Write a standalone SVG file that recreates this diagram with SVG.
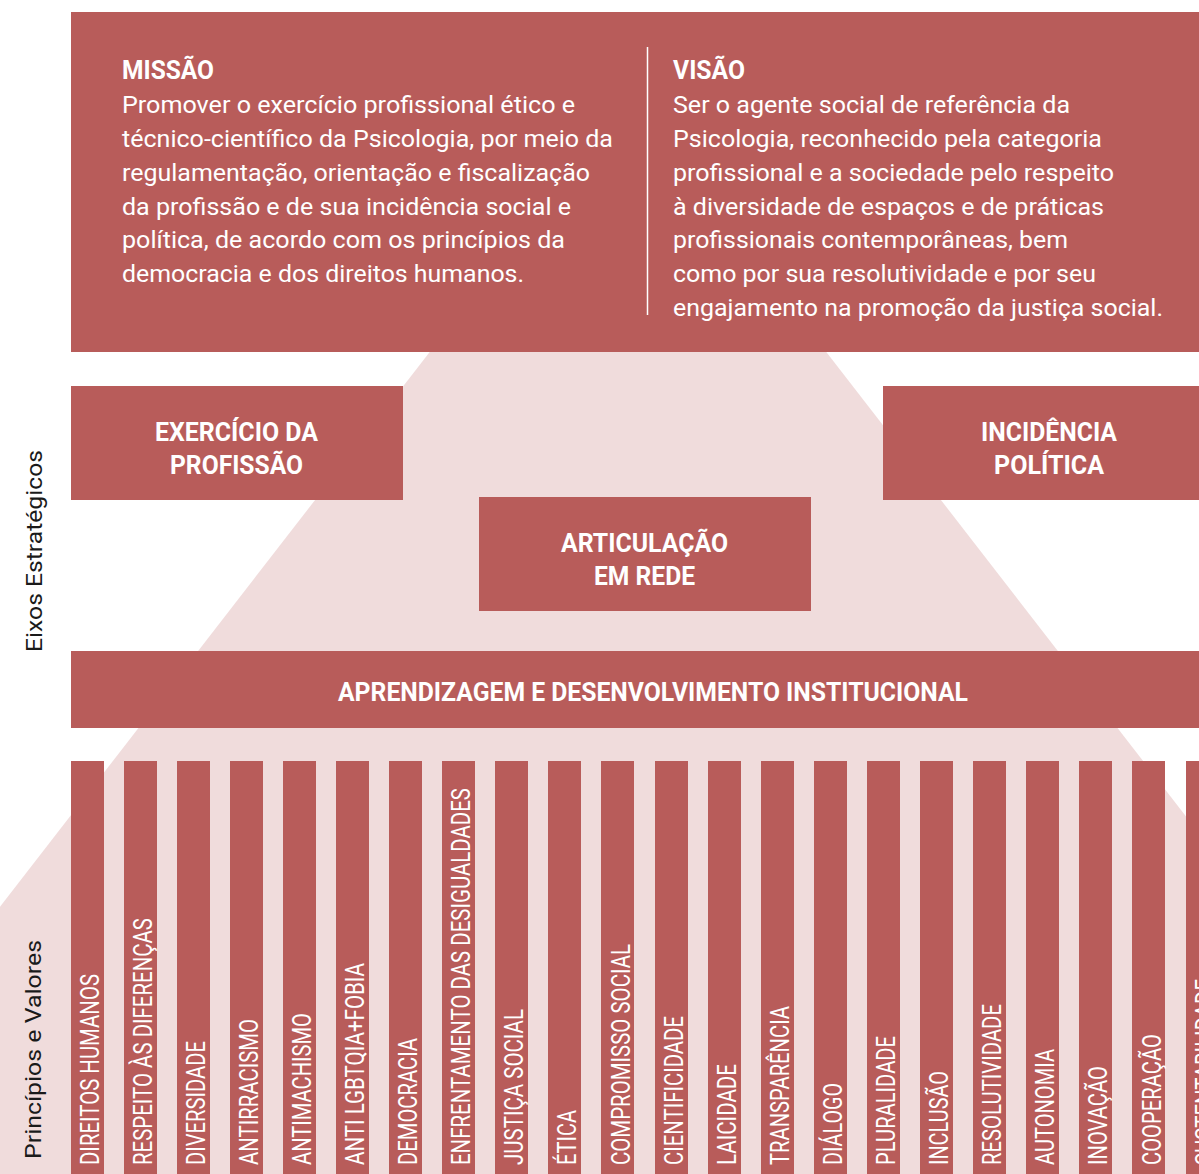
<svg xmlns="http://www.w3.org/2000/svg" width="1199" height="1174" viewBox="0 0 1199 1174">
<style>
.box{fill:#b85c5a}
.pyr{fill:#f0dcdc}
.t{font-family:Roboto,"Liberation Sans",sans-serif;fill:#ffffff}
.h{font-weight:700;font-size:26px}
.body{font-size:24px;font-weight:400}
.pl{font-size:25px;font-weight:400}
.side{font-family:Roboto,"Liberation Sans",sans-serif;fill:#1a1a1a;font-size:22px}
</style>
<rect width="1199" height="1174" fill="#ffffff"/>
<g id="pyramid">
<polygon class="pyr" points="628,96 1463,1174 -207,1174"/>
</g>
<g id="mission-vision">
<rect class="box" x="71" y="12" width="1128" height="340"/>
<line x1="647.5" y1="47" x2="647.5" y2="315" stroke="#ffffff" stroke-width="1.5"/>
<text class="t h" x="122" y="79" textLength="92" lengthAdjust="spacingAndGlyphs">MISSÃO</text>
<text class="t body" x="122" y="113" textLength="453" lengthAdjust="spacingAndGlyphs">Promover o exercício profissional ético e</text>
<text class="t body" x="122" y="147" textLength="491" lengthAdjust="spacingAndGlyphs">técnico-científico da Psicologia, por meio da</text>
<text class="t body" x="122" y="181" textLength="468" lengthAdjust="spacingAndGlyphs">regulamentação, orientação e fiscalização</text>
<text class="t body" x="122" y="214.5" textLength="449" lengthAdjust="spacingAndGlyphs">da profissão e de sua incidência social e</text>
<text class="t body" x="122" y="248" textLength="443" lengthAdjust="spacingAndGlyphs">política, de acordo com os princípios da</text>
<text class="t body" x="122" y="282" textLength="402" lengthAdjust="spacingAndGlyphs">democracia e dos direitos humanos.</text>
<text class="t h" x="673" y="79" textLength="72" lengthAdjust="spacingAndGlyphs">VISÃO</text>
<text class="t body" x="673" y="113" textLength="397" lengthAdjust="spacingAndGlyphs">Ser o agente social de referência da</text>
<text class="t body" x="673" y="147" textLength="429" lengthAdjust="spacingAndGlyphs">Psicologia, reconhecido pela categoria</text>
<text class="t body" x="673" y="181" textLength="441" lengthAdjust="spacingAndGlyphs">profissional e a sociedade pelo respeito</text>
<text class="t body" x="673" y="214.5" textLength="431" lengthAdjust="spacingAndGlyphs">à diversidade de espaços e de práticas</text>
<text class="t body" x="673" y="248" textLength="395" lengthAdjust="spacingAndGlyphs">profissionais contemporâneas, bem</text>
<text class="t body" x="673" y="282" textLength="423" lengthAdjust="spacingAndGlyphs">como por sua resolutividade e por seu</text>
<text class="t body" x="673" y="315.5" textLength="490" lengthAdjust="spacingAndGlyphs">engajamento na promoção da justiça social.</text>
</g>
<g id="side-labels">
<text class="side" transform="translate(42,652) rotate(-90)" textLength="202" lengthAdjust="spacingAndGlyphs">Eixos Estratégicos</text>
<text class="side" transform="translate(41,1159) rotate(-90)" textLength="219" lengthAdjust="spacingAndGlyphs">Princípios e Valores</text>
</g>
<g id="exercicio">
<rect class="box" x="71" y="386" width="332" height="114"/>
<text class="t h" x="155" y="441" textLength="163" lengthAdjust="spacingAndGlyphs">EXERCÍCIO DA</text>
<text class="t h" x="170" y="474" textLength="133" lengthAdjust="spacingAndGlyphs">PROFISSÃO</text>
</g>
<g id="incidencia">
<rect class="box" x="883" y="386" width="316" height="114"/>
<text class="t h" x="981" y="441" textLength="136" lengthAdjust="spacingAndGlyphs">INCIDÊNCIA</text>
<text class="t h" x="994" y="474" textLength="110" lengthAdjust="spacingAndGlyphs">POLÍTICA</text>
</g>
<g id="articulacao">
<rect class="box" x="479" y="497" width="332" height="114"/>
<text class="t h" x="561" y="552" textLength="167" lengthAdjust="spacingAndGlyphs">ARTICULAÇÃO</text>
<text class="t h" x="594" y="585" textLength="101" lengthAdjust="spacingAndGlyphs">EM REDE</text>
</g>
<g id="aprendizagem">
<rect class="box" x="71" y="651" width="1128" height="77"/>
<text class="t h" x="338" y="701" textLength="630" lengthAdjust="spacingAndGlyphs">APRENDIZAGEM E DESENVOLVIMENTO INSTITUCIONAL</text>
</g>
<g id="pillars">
<g id="p01"><rect class="box" x="71" y="761" width="33" height="413"/><text class="t pl" transform="translate(98.5,1165) rotate(-90)" textLength="191" lengthAdjust="spacingAndGlyphs">DIREITOS HUMANOS</text></g>
<g id="p02"><rect class="box" x="124" y="761" width="33" height="413"/><text class="t pl" transform="translate(151.6,1165) rotate(-90)" textLength="247" lengthAdjust="spacingAndGlyphs">RESPEITO ÀS DIFERENÇAS</text></g>
<g id="p03"><rect class="box" x="177" y="761" width="33" height="413"/><text class="t pl" transform="translate(204.7,1165) rotate(-90)" textLength="124" lengthAdjust="spacingAndGlyphs">DIVERSIDADE</text></g>
<g id="p04"><rect class="box" x="230" y="761" width="33" height="413"/><text class="t pl" transform="translate(257.8,1165) rotate(-90)" textLength="146" lengthAdjust="spacingAndGlyphs">ANTIRRACISMO</text></g>
<g id="p05"><rect class="box" x="283" y="761" width="33" height="413"/><text class="t pl" transform="translate(310.9,1165) rotate(-90)" textLength="152" lengthAdjust="spacingAndGlyphs">ANTIMACHISMO</text></g>
<g id="p06"><rect class="box" x="336" y="761" width="33" height="413"/><text class="t pl" transform="translate(364,1165) rotate(-90)" textLength="202" lengthAdjust="spacingAndGlyphs">ANTI LGBTQIA+FOBIA</text></g>
<g id="p07"><rect class="box" x="389" y="761" width="33" height="413"/><text class="t pl" transform="translate(417.1,1165) rotate(-90)" textLength="127" lengthAdjust="spacingAndGlyphs">DEMOCRACIA</text></g>
<g id="p08"><rect class="box" x="442" y="761" width="33" height="413"/><text class="t pl" transform="translate(470.2,1165) rotate(-90)" textLength="377" lengthAdjust="spacingAndGlyphs">ENFRENTAMENTO DAS DESIGUALDADES</text></g>
<g id="p09"><rect class="box" x="495" y="761" width="33" height="413"/><text class="t pl" transform="translate(523.3,1165) rotate(-90)" textLength="156" lengthAdjust="spacingAndGlyphs">JUSTIÇA SOCIAL</text></g>
<g id="p10"><rect class="box" x="548" y="761" width="33" height="413"/><text class="t pl" transform="translate(576.4,1165) rotate(-90)" textLength="55" lengthAdjust="spacingAndGlyphs">ÉTICA</text></g>
<g id="p11"><rect class="box" x="601" y="761" width="33" height="413"/><text class="t pl" transform="translate(629.5,1165) rotate(-90)" textLength="221" lengthAdjust="spacingAndGlyphs">COMPROMISSO SOCIAL</text></g>
<g id="p12"><rect class="box" x="655" y="761" width="33" height="413"/><text class="t pl" transform="translate(682.6,1165) rotate(-90)" textLength="149" lengthAdjust="spacingAndGlyphs">CIENTIFICIDADE</text></g>
<g id="p13"><rect class="box" x="708" y="761" width="33" height="413"/><text class="t pl" transform="translate(735.7,1165) rotate(-90)" textLength="101" lengthAdjust="spacingAndGlyphs">LAICIDADE</text></g>
<g id="p14"><rect class="box" x="761" y="761" width="33" height="413"/><text class="t pl" transform="translate(788.8,1165) rotate(-90)" textLength="159" lengthAdjust="spacingAndGlyphs">TRANSPARÊNCIA</text></g>
<g id="p15"><rect class="box" x="814" y="761" width="33" height="413"/><text class="t pl" transform="translate(841.9,1165) rotate(-90)" textLength="82" lengthAdjust="spacingAndGlyphs">DIÁLOGO</text></g>
<g id="p16"><rect class="box" x="867" y="761" width="33" height="413"/><text class="t pl" transform="translate(895,1165) rotate(-90)" textLength="129" lengthAdjust="spacingAndGlyphs">PLURALIDADE</text></g>
<g id="p17"><rect class="box" x="920" y="761" width="33" height="413"/><text class="t pl" transform="translate(948.1,1165) rotate(-90)" textLength="94" lengthAdjust="spacingAndGlyphs">INCLUSÃO</text></g>
<g id="p18"><rect class="box" x="973" y="761" width="33" height="413"/><text class="t pl" transform="translate(1001.2,1165) rotate(-90)" textLength="161" lengthAdjust="spacingAndGlyphs">RESOLUTIVIDADE</text></g>
<g id="p19"><rect class="box" x="1026" y="761" width="33" height="413"/><text class="t pl" transform="translate(1054.3,1165) rotate(-90)" textLength="116" lengthAdjust="spacingAndGlyphs">AUTONOMIA</text></g>
<g id="p20"><rect class="box" x="1079" y="761" width="33" height="413"/><text class="t pl" transform="translate(1107.4,1165) rotate(-90)" textLength="99" lengthAdjust="spacingAndGlyphs">INOVAÇÃO</text></g>
<g id="p21"><rect class="box" x="1132" y="761" width="33" height="413"/><text class="t pl" transform="translate(1160.5,1165) rotate(-90)" textLength="131" lengthAdjust="spacingAndGlyphs">COOPERAÇÃO</text></g>
<g id="p22"><rect class="box" x="1186" y="761" width="33" height="413"/><text class="t pl" transform="translate(1213.6,1165) rotate(-90)" textLength="186" lengthAdjust="spacingAndGlyphs">SUSTENTABILIDADE</text></g>
</g>
<g id="connectors"/>
</svg>
